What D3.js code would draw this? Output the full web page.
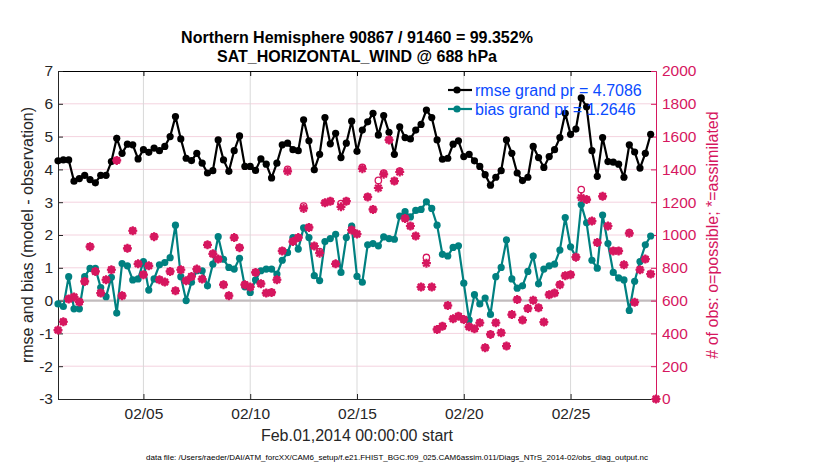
<!DOCTYPE html>
<html>
<head>
<meta charset="utf-8">
<script src="https://cdn.jsdelivr.net/npm/d3@7"></script>
<style>
  body { margin: 0; background: #fff; }
  text { font-family: "Liberation Sans", Arial, Helvetica, sans-serif; }
</style>
</head>
<body>
<div id="chart"></div>
<script>
// values, one bin every 6 hours from Feb.01 00:00
var rmse = [4.26,4.29,4.29,3.64,3.72,3.82,3.69,3.59,3.82,3.82,4.24,4.95,4.49,4.77,4.75,4.32,4.60,4.52,4.65,4.57,4.70,5.00,5.61,4.93,4.34,4.27,4.49,4.19,3.89,
  3.96,4.90,4.29,3.94,4.57,5.02,4.09,4.09,3.97,4.32,4.16,3.74,4.19,4.75,4.80,4.60,4.57,5.51,4.87,3.99,4.46,5.58,4.78,5.10,4.36,4.80,5.47,4.55,
  5.20,5.45,5.71,5.05,5.64,5.13,4.46,5.30,4.97,4.93,5.20,5.37,5.81,5.58,4.90,4.31,4.34,4.77,4.87,4.39,4.46,4.26,4.09,3.84,3.52,3.76,3.96,4.90,
  4.49,3.89,3.66,3.76,4.70,4.36,4.06,4.39,4.60,4.97,5.71,5.07,5.23,6.18,5.91,4.57,3.79,4.97,4.24,4.22,4.16,3.76,4.75,4.53,4.04,4.49,5.07];

var bias = [-0.10,-0.18,0.73,-0.25,-0.25,0.73,0.98,0.98,0.40,0.12,0.71,-0.38,1.13,1.06,0.63,0.66,1.19,0.32,0.66,1.09,1.16,1.31,2.30,0.73,0.00,0.56,0.91,0.91,0.45,
  1.11,1.95,1.26,1.01,0.96,1.29,0.42,0.25,0.63,0.91,0.96,0.96,0.81,1.23,1.46,1.92,1.57,2.22,1.92,0.76,0.61,1.80,1.89,2.02,0.86,1.92,2.27,0.74,
  0.56,1.70,1.74,1.67,1.94,1.89,1.87,2.58,2.71,2.55,2.75,2.78,3.01,2.81,2.30,1.41,1.36,1.62,1.67,0.53,-0.59,0.18,-0.10,0.08,-0.42,0.73,1.01,1.85,
  0.66,0.38,0.45,0.89,1.36,0.51,0.96,1.06,1.11,1.54,2.53,1.64,1.33,2.93,2.37,1.23,0.99,2.61,1.74,0.86,0.69,0.63,-0.30,0.59,1.19,1.70,1.97];

var nUsed = [420,471,610,622,592,717,929,778,646,727,788,1455,630,919,1026,824,758,812,990,727,713,778,660,788,721,747,792,731,940,
  885,853,697,630,984,923,697,683,772,703,646,650,727,903,1388,960,984,1162,1046,933,889,1196,1206,824,1172,1206,1030,1006,
  1404,1232,1156,1287,1370,1580,1329,1384,1101,1055,994,683,828,683,424,444,570,489,505,485,440,428,465,313,394,465,404,323,
  515,606,481,552,602,556,469,636,646,697,752,758,865,1228,1216,1085,954,1236,1055,903,903,818,1010,590,788,853,762,0];

var nPoss = [420,471,610,622,592,717,929,778,646,727,788,1455,630,919,1026,824,758,812,990,727,713,778,660,788,721,747,792,731,940,
  885,853,697,630,984,923,697,683,772,703,646,650,727,903,1400,960,984,1176,1046,933,899,1196,1206,824,1192,1206,1030,1006,
  1412,1232,1156,1333,1378,1580,1329,1390,1101,1055,994,683,863,683,424,444,570,489,505,485,440,428,465,313,394,465,404,323,
  515,606,481,552,602,556,469,636,646,697,752,758,865,1277,1216,1085,954,1236,1055,903,903,818,1014,590,788,853,762,0];

var leftTicks = [-3,-2,-1,0,1,2,3,4,5,6,7];
var rightTicks = [0,200,400,600,800,1000,1200,1400,1600,1800,2000];
var dateTicks = ["2014-02-05","2014-02-10","2014-02-15","2014-02-20","2014-02-25"];

var title1 = "Northern Hemisphere 90867 / 91460 = 99.352%";
var title2 = "SAT_HORIZONTAL_WIND @ 688 hPa";
var legendText = ["rmse grand pr = 4.7086", "bias grand pr = 1.2646"];
var fileText = "data file: /Users/raeder/DAI/ATM_forcXX/CAM6_setup/f.e21.FHIST_BGC.f09_025.CAM6assim.011/Diags_NTrS_2014-02/obs_diag_output.nc";

var magenta = "#d6175f", teal = "#008080", blue = "#0a4bff";
var t0 = Date.UTC(2014, 1, 1);
var time = function(i) { return new Date(t0 + i * 6 * 3600 * 1000); };
var parse = d3.utcParse("%Y-%m-%d");

var W = 830, H = 470;
var L = 58, R = 656, T = 71, B = 399;

var svg = d3.select("#chart").append("svg")
    .attr("width", W).attr("height", H)
    .style("background", "#fff");

var x = d3.scaleUtc().domain([new Date(t0), new Date(Date.UTC(2014, 2, 1))]).range([L, R]);
var y = d3.scaleLinear().domain([-3, 7]).range([B, T]);
var y2 = d3.scaleLinear().domain([0, 2000]).range([B, T]);

// grid
svg.append("g").selectAll("line").data(leftTicks.slice(1, -1)).join("line")
    .attr("x1", L).attr("x2", R)
    .attr("y1", function(d) { return y(d); }).attr("y2", function(d) { return y(d); })
    .attr("stroke", "#f4d3df").attr("stroke-width", 1);
svg.append("g").selectAll("line").data(dateTicks).join("line")
    .attr("x1", function(d) { return x(parse(d)); }).attr("x2", function(d) { return x(parse(d)); })
    .attr("y1", T).attr("y2", B)
    .attr("stroke", "#d9d9d9").attr("stroke-width", 1);

// zero line
svg.append("line")
    .attr("x1", L).attr("x2", R).attr("y1", y(0)).attr("y2", y(0))
    .attr("stroke", "#c2bcbe").attr("stroke-width", 2.2);

// axes
var plain = function(d) { return String(d); };
var gx = svg.append("g").attr("transform", "translate(0," + B + ")")
    .call(d3.axisBottom(x).tickValues(dateTicks.map(parse)).tickFormat(d3.utcFormat("%m/%d"))
      .tickSize(-5).tickSizeOuter(0).tickPadding(9));
svg.append("g").attr("transform", "translate(0," + T + ")")
    .call(d3.axisTop(x).tickValues(dateTicks.map(parse)).tickFormat("").tickSize(-5).tickSizeOuter(0));
var gy = svg.append("g").attr("transform", "translate(" + L + ",0)")
    .call(d3.axisLeft(y).tickValues(leftTicks).tickFormat(plain).tickSize(-5).tickSizeOuter(0).tickPadding(5));
var gy2 = svg.append("g").attr("transform", "translate(" + R + ",0)")
    .call(d3.axisRight(y2).tickValues(rightTicks).tickFormat(plain).tickSize(-5).tickSizeOuter(0).tickPadding(6));

[gx, gy].forEach(function(g) {
  g.selectAll("path, line").attr("stroke", "#262626");
  g.selectAll("text").attr("fill", "#262626").style("font-size", "15.5px");
});
gy2.selectAll("path, line").attr("stroke", magenta);
gy2.selectAll("text").attr("fill", magenta).style("font-size", "15.5px");

// rmse and bias
var line = function(vals) {
  return d3.line().x(function(d, i) { return x(time(i)); }).y(function(d) { return y(d); })(vals);
};
svg.append("path").attr("d", line(rmse)).attr("fill", "none").attr("stroke", "#000").attr("stroke-width", 2.2);
svg.append("g").selectAll("circle").data(rmse).join("circle")
    .attr("cx", function(d, i) { return x(time(i)); }).attr("cy", function(d) { return y(d); })
    .attr("r", 3.6).attr("fill", "#000");

svg.append("path").attr("d", line(bias)).attr("fill", "none").attr("stroke", teal).attr("stroke-width", 2.2);
svg.append("g").selectAll("circle").data(bias).join("circle")
    .attr("cx", function(d, i) { return x(time(i)); }).attr("cy", function(d) { return y(d); })
    .attr("r", 3.6).attr("fill", teal);

// obs counts, right axis
var star = "M-4.5,0H4.5M0,-4.5V4.5M-3.2,-3.2L3.2,3.2M-3.2,3.2L3.2,-3.2";
svg.append("g").selectAll("path").data(nUsed).join("path")
    .attr("transform", function(d, i) { return "translate(" + x(time(i)) + "," + y2(d) + ")"; })
    .attr("d", star).attr("stroke", magenta).attr("stroke-width", 2.2).attr("fill", "none");
svg.append("g").selectAll("circle").data(nPoss).join("circle")
    .attr("cx", function(d, i) { return x(time(i)); }).attr("cy", function(d) { return y2(d); })
    .attr("r", 3.2).attr("fill", "none").attr("stroke", magenta).attr("stroke-width", 1.3);

// legend
var lg = svg.append("g");
[["#000", 0], [teal, 1]].forEach(function(s) {
  var ly = 90 + s[1] * 19;
  lg.append("line").attr("x1", 448).attr("x2", 472).attr("y1", ly).attr("y2", ly)
      .attr("stroke", s[0]).attr("stroke-width", 2.2);
  lg.append("circle").attr("cx", 457).attr("cy", ly).attr("r", 3.6).attr("fill", s[0]);
  lg.append("text").attr("x", 475).attr("y", ly + 6).text(legendText[s[1]])
      .attr("fill", blue).style("font-size", "16px");
});

// titles and labels
svg.append("text").attr("x", (L + R) / 2).attr("y", 43).attr("text-anchor", "middle")
    .style("font-size", "16px").style("font-weight", "bold").text(title1);
svg.append("text").attr("x", (L + R) / 2).attr("y", 62).attr("text-anchor", "middle")
    .style("font-size", "16px").style("font-weight", "bold").text(title2);

svg.append("text").attr("x", (L + R) / 2).attr("y", 441).attr("text-anchor", "middle")
    .attr("fill", "#262626").style("font-size", "16px").text("Feb.01,2014 00:00:00 start");

svg.append("text").attr("transform", "translate(33," + (T + B) / 2 + ") rotate(-90)")
    .attr("text-anchor", "middle").attr("fill", "#262626").style("font-size", "16px")
    .text("rmse and bias (model - observation)");

svg.append("text").attr("transform", "translate(718," + (T + B) / 2 + ") rotate(-90)")
    .attr("text-anchor", "middle").attr("fill", magenta).style("font-size", "16px")
    .text("# of obs: o=possible; *=assimilated");

svg.append("text").attr("x", (L + R) / 2 + 40).attr("y", 460).attr("text-anchor", "middle")
    .attr("fill", "#000").style("font-size", "8px").text(fileText);
</script>
</body>
</html>
